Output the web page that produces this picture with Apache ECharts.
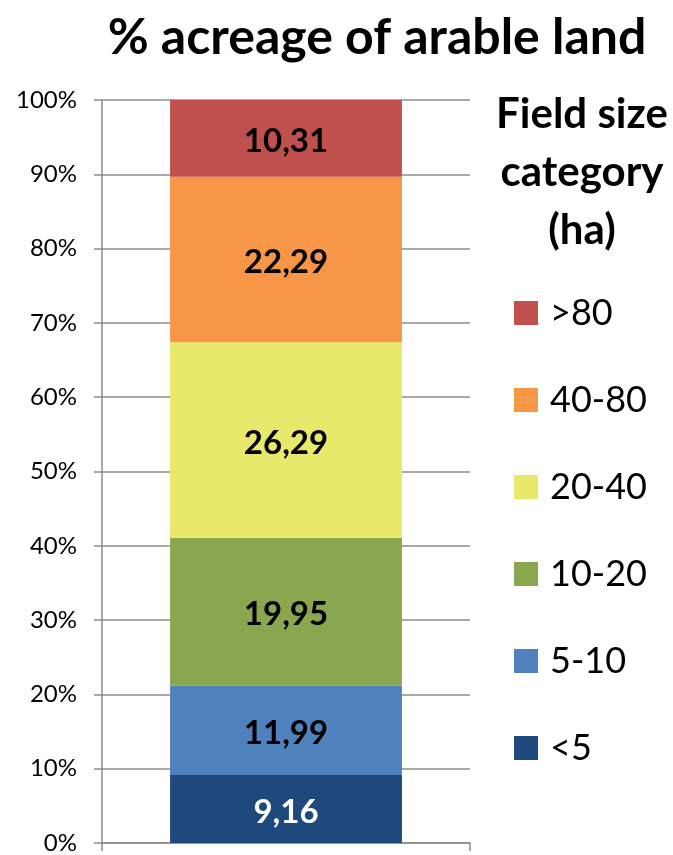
<!DOCTYPE html>
<html>
<head>
<meta charset="utf-8">
<script src="https://cdn.jsdelivr.net/npm/echarts@6/dist/echarts.min.js"></script>
<style>html,body{margin:0;padding:0;background:#fff}#c{width:673px;height:855px}</style>
</head>
<body>
<div id="c"></div>
<script>
const categories = ['arable land'];
const seriesNames = ['<5', '5-10', '10-20', '20-40', '40-80', '>80'];
const seriesValues = [9.16, 11.99, 19.95, 26.29, 22.29, 10.31];
const seriesColors = ['#1F497D', '#4F81BD', '#8AA64E', '#E8E86A', '#F79646', '#C0504D'];
const labelColors = ['#ffffff', '#000000', '#000000', '#000000', '#000000', '#000000'];
const legendOrder = ['>80', '40-80', '20-40', '10-20', '5-10', '<5'];
const yTicks = [0, 10, 20, 30, 40, 50, 60, 70, 80, 90, 100];

const FONT = 'Lato';
const AX = '#8c8c8c';

const chart = echarts.init(document.getElementById('c'), null, {renderer: 'canvas'});
chart.setOption({
  backgroundColor: '#ffffff',
  animation: false,
  title: [
    {
      text: '% acreage of arable land',
      left: 372, top: 3, textAlign: 'center',
      textStyle: {fontFamily: FONT, fontWeight: 'bold', fontSize: 50, color: '#000', lineHeight: 60}
    },
    {
      text: 'Field size\ncategory\n(ha)',
      left: 577, top: 80, textAlign: 'center',
      textStyle: {fontFamily: FONT, fontWeight: 'bold', fontSize: 42, color: '#000', lineHeight: 58}
    }
  ],
  legend: {
    orient: 'vertical',
    left: 514, top: 295, padding: 0,
    itemWidth: 24, itemHeight: 24, itemGap: 51,
    icon: 'rect',
    data: legendOrder,
    textStyle: {fontFamily: FONT, fontSize: 36, color: '#000', padding: [0, 0, 0, 7]}
  },
  grid: {left: 102, right: 203, top: 100, bottom: 7, containLabel: false},
  xAxis: {
    type: 'category',
    data: categories,
    axisLine: {show: true, lineStyle: {color: AX, width: 1.5}},
    axisTick: {show: true, length: 8, lineStyle: {color: AX, width: 1.5}},
    axisLabel: {show: false}
  },
  yAxis: {
    type: 'value',
    min: 0, max: 100, interval: 10,
    axisLine: {show: true, lineStyle: {color: AX, width: 1.5}},
    axisTick: {show: true, length: 8, lineStyle: {color: AX, width: 1.5}},
    splitLine: {show: true, lineStyle: {color: AX, width: 1.5}},
    axisLabel: {
      margin: 25,
      fontFamily: FONT, fontSize: 24, color: '#000',
      formatter: v => yTicks.includes(v) ? v + '%' : ''
    }
  },
  series: seriesNames.map((name, i) => ({
    name: name,
    type: 'bar',
    stack: 'total',
    barWidth: '63%',
    data: [seriesValues[i]],
    itemStyle: {color: seriesColors[i]},
    label: {
      show: true,
      position: 'inside',
      offset: [0, 3],
      fontFamily: FONT, fontWeight: 'bold', fontSize: 33,
      color: labelColors[i],
      formatter: p => p.value.toFixed(2).replace('.', ',')
    }
  }))
});
</script>
</body>
</html>
